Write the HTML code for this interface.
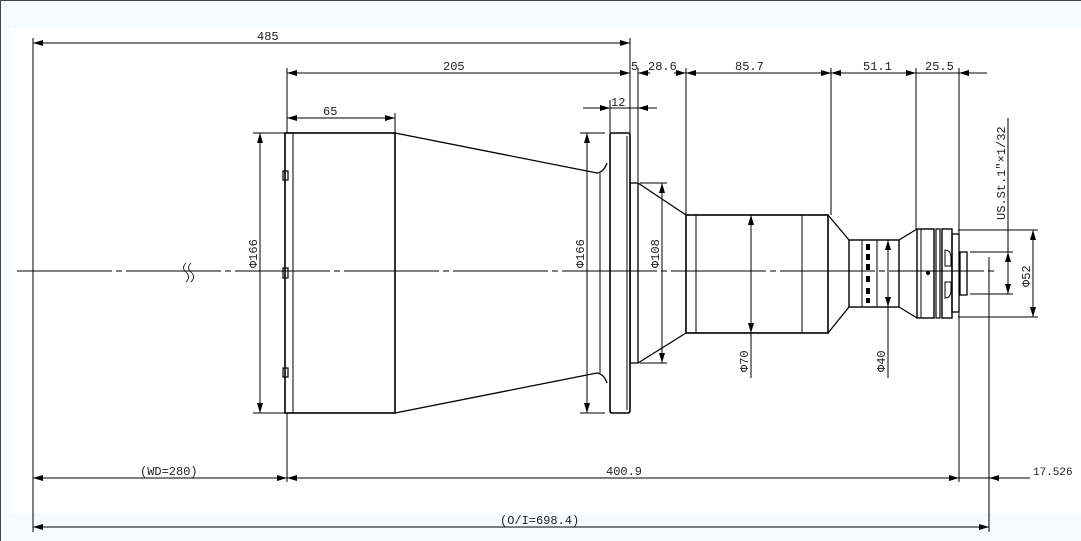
<!DOCTYPE html>
<html><head><meta charset="utf-8"><style>
html,body{margin:0;padding:0;background:#fff}
svg{display:block}
text{font-family:"Liberation Mono","DejaVu Sans Mono",monospace;font-size:12px;fill:#222}
</style></head><body>
<svg width="1081" height="541" viewBox="0 0 1081 541" xmlns="http://www.w3.org/2000/svg">
<defs>
<marker id="a" viewBox="0 0 10 6" refX="10" refY="3" markerWidth="10" markerHeight="6" orient="auto-start-reverse" markerUnits="userSpaceOnUse"><path d="M0,0 L10,3 L0,6z" fill="#000"/></marker>
</defs>
<rect x="0" y="0" width="1081" height="541" fill="#f6faff"/>
<rect x="10" y="28" width="1071" height="485" fill="#fff"/>
<line x1="0" y1="0.5" x2="1081" y2="0.5" stroke="#444"/>
<line x1="0.5" y1="0" x2="0.5" y2="541" stroke="#444"/>
<g stroke="#000" fill="none" stroke-width="1">
<line x1="17" y1="271" x2="997" y2="271" stroke-dasharray="95,4,6,4"/>
<path d="M186,263 q-5,5 0,9 q5,5 0,10 M191,263 q-5,5 0,9 q5,5 0,10" stroke-width="0.8"/>
<line x1="33" y1="38" x2="33" y2="532"/>
<line x1="630" y1="38" x2="630" y2="133"/>
<line x1="287" y1="68" x2="287" y2="133"/>
<line x1="287" y1="413" x2="287" y2="482"/>
<line x1="395" y1="113" x2="395" y2="133"/>
<line x1="638" y1="68" x2="638" y2="182"/>
<line x1="610" y1="100" x2="610" y2="133"/>
<line x1="686" y1="68" x2="686" y2="215"/>
<line x1="831" y1="68" x2="831" y2="215"/>
<line x1="916" y1="68" x2="916" y2="229"/>
<line x1="959" y1="68" x2="959" y2="482"/>
<line x1="989" y1="257" x2="989" y2="532"/>
<line x1="33" y1="43" x2="630" y2="43" marker-start="url(#a)" marker-end="url(#a)"/>
<line x1="287" y1="73" x2="630" y2="73" marker-start="url(#a)" marker-end="url(#a)"/>
<line x1="638" y1="73" x2="650" y2="73" marker-start="url(#a)"/>
<line x1="674" y1="73" x2="686" y2="73" marker-end="url(#a)"/>
<line x1="686" y1="73" x2="831" y2="73" marker-start="url(#a)" marker-end="url(#a)"/>
<line x1="831" y1="73" x2="916" y2="73" marker-start="url(#a)" marker-end="url(#a)"/>
<line x1="916" y1="73" x2="987" y2="73"/>
<line x1="959" y1="73" x2="972" y2="73" marker-start="url(#a)"/>
<line x1="583" y1="108" x2="610" y2="108" marker-end="url(#a)"/>
<line x1="610" y1="108" x2="638" y2="108"/>
<line x1="657" y1="108" x2="638" y2="108" marker-end="url(#a)"/>
<line x1="287" y1="118" x2="395" y2="118" marker-start="url(#a)" marker-end="url(#a)"/>
<line x1="33" y1="478" x2="287" y2="478" marker-start="url(#a)" marker-end="url(#a)"/>
<line x1="287" y1="478" x2="959" y2="478" marker-start="url(#a)" marker-end="url(#a)"/>
<line x1="959" y1="478" x2="989" y2="478"/>
<line x1="1030" y1="478" x2="989" y2="478" marker-end="url(#a)"/>
<line x1="33" y1="527" x2="989" y2="527" marker-start="url(#a)" marker-end="url(#a)"/>
<line x1="253" y1="133" x2="285" y2="133"/><line x1="253" y1="413" x2="285" y2="413"/>
<line x1="260" y1="133" x2="260" y2="413" marker-start="url(#a)" marker-end="url(#a)"/>
<line x1="580" y1="133" x2="605" y2="133"/><line x1="580" y1="413" x2="605" y2="413"/>
<line x1="587" y1="133" x2="587" y2="413" marker-start="url(#a)" marker-end="url(#a)"/>
<line x1="640" y1="183" x2="667" y2="183"/><line x1="640" y1="363" x2="667" y2="363"/>
<line x1="662" y1="183" x2="662" y2="363" marker-start="url(#a)" marker-end="url(#a)"/>
<line x1="751" y1="215" x2="751" y2="333" marker-start="url(#a)" marker-end="url(#a)"/>
<line x1="751" y1="333" x2="751" y2="378"/>
<line x1="888" y1="240" x2="888" y2="307" marker-start="url(#a)" marker-end="url(#a)"/>
<line x1="888" y1="307" x2="888" y2="378"/>
<line x1="958" y1="230" x2="1038" y2="230"/><line x1="958" y1="317" x2="1038" y2="317"/>
<line x1="1033" y1="230" x2="1033" y2="317" marker-start="url(#a)" marker-end="url(#a)"/>
<line x1="970" y1="252" x2="1013" y2="252"/><line x1="970" y1="294" x2="1013" y2="294"/>
<line x1="1008" y1="118" x2="1008" y2="294"/>
<line x1="1008" y1="252" x2="1008" y2="294" marker-start="url(#a)" marker-end="url(#a)"/>
</g>
<g stroke="#000" fill="none">
<rect x="285" y="133" width="110" height="280" stroke-width="1.6"/>
<line x1="293" y1="133" x2="293" y2="413"/>
<rect x="283" y="171" width="5" height="9" stroke-width="1.2"/>
<rect x="283" y="268" width="5" height="10" stroke-width="1.2"/>
<rect x="283" y="368" width="5" height="9" stroke-width="1.2"/>
<path d="M395,133 L597,173 Q604,172 607,163" stroke-width="1.3"/>
<path d="M395,413 L597,373 Q604,374 607,383" stroke-width="1.3"/>
<line x1="600" y1="173" x2="600" y2="373"/>
<rect x="610" y="133" width="20" height="280" rx="2" stroke-width="1.6"/>
<line x1="627" y1="136" x2="627" y2="410"/>
<rect x="630" y="183" width="8" height="180" stroke-width="1.3"/>
<path d="M638,183 L686,215 M638,363 L686,333" stroke-width="1.3"/>
<rect x="686" y="215" width="142" height="118" stroke-width="1.6"/>
<line x1="696" y1="215" x2="696" y2="333"/>
<line x1="802" y1="215" x2="802" y2="333"/>
<path d="M828,215 L849,240 M828,333 L849,307" stroke-width="1.3"/>
<rect x="849" y="240" width="50" height="67" stroke-width="1.4"/>
<line x1="862" y1="240" x2="862" y2="307"/>
<line x1="877" y1="240" x2="877" y2="307"/>
<path d="M899,240 L917,229 M899,307 L917,318" stroke-width="1.3"/>
<rect x="917" y="229" width="17" height="89" stroke-width="1.4"/>
<line x1="921" y1="229" x2="921" y2="318"/>
<rect x="936" y="229" width="4" height="89" stroke-width="1.2"/>
<rect x="942" y="229" width="10" height="89" stroke-width="1.4"/>
<rect x="952" y="234" width="7" height="78" stroke-width="1.3"/>
<rect x="960" y="252" width="7" height="43" stroke-width="1.3"/>
<path d="M945,250 q6,0 6,8 v8 h-6z M945,282 h6 v8 q0,8 -6,8z" stroke-width="1"/>
<circle cx="928" cy="273" r="1.6" fill="#000"/>
</g>
<g fill="#000"><rect x="866" y="244" width="4" height="6"/><rect x="866" y="254" width="4" height="6"/><rect x="866" y="264" width="4" height="6"/><rect x="866" y="276" width="4" height="6"/><rect x="866" y="288" width="4" height="6"/><rect x="866" y="298" width="4" height="5"/></g>
<text x="257" y="40">485</text>
<text x="443" y="70">205</text>
<text x="631" y="70">5</text>
<text x="648" y="70">28.6</text>
<text x="735" y="70">85.7</text>
<text x="863" y="70">51.1</text>
<text x="925" y="70">25.5</text>
<text x="611" y="106">12</text>
<text x="323" y="115">65</text>
<text x="140" y="475">(WD=280)</text>
<text x="606" y="475">400.9</text>
<text x="1033" y="475" style="font-size:11px">17.526</text>
<text x="500" y="524">(O/I=698.4)</text>
<text transform="translate(257,268) rotate(-90)">Φ166</text>
<text transform="translate(584,268) rotate(-90)">Φ166</text>
<text transform="translate(659,268) rotate(-90)">Φ108</text>
<text transform="translate(748,372) rotate(-90)">Φ70</text>
<text transform="translate(885,372) rotate(-90)">Φ40</text>
<text transform="translate(1030,287) rotate(-90)">Φ52</text>
<text transform="translate(1005,220) rotate(-90)">US.St.1″×1/32</text>
</svg>
</body></html>
